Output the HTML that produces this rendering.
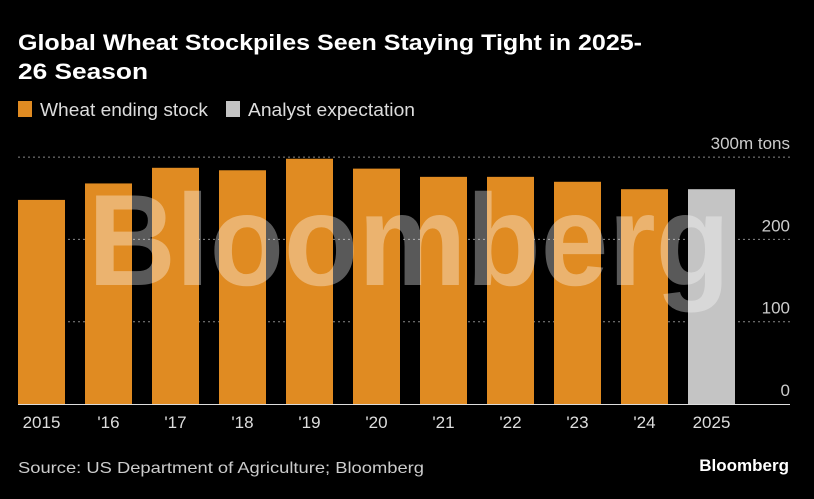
<!DOCTYPE html>
<html><head><meta charset="utf-8"><style>
body{margin:0;background:#000;width:814px;height:494px;overflow:hidden;font-family:"Liberation Sans",sans-serif;color:#fff}
</style></head><body>
<svg width="814" height="494" id="c">
<text x="18" y="50" font-size="22" font-weight="bold" fill="#fff" textLength="624" lengthAdjust="spacingAndGlyphs">Global Wheat Stockpiles Seen Staying Tight in 2025-</text>
<text x="18" y="79" font-size="22" font-weight="bold" fill="#fff" textLength="130" lengthAdjust="spacingAndGlyphs">26 Season</text>
<rect x="18" y="101" width="14" height="16" fill="#e08b22"/>
<text x="40" y="116" font-size="18" fill="#ddd" textLength="168" lengthAdjust="spacingAndGlyphs">Wheat ending stock</text>
<rect x="226" y="101" width="14" height="16" fill="#c4c4c4"/>
<text x="248" y="116" font-size="18" fill="#ddd" textLength="167" lengthAdjust="spacingAndGlyphs">Analyst expectation</text>
<g id="grid"></g><g id="bars"></g>
<line x1="18" x2="790" y1="404.5" y2="404.5" stroke="#ddd" stroke-width="1"/>
<g id="xl"></g>
<text x="88" y="285" font-size="130" font-weight="bold" fill="#fff" fill-opacity="0.35" textLength="642" lengthAdjust="spacingAndGlyphs">Bloomberg</text>
<text x="18" y="473" font-size="16" fill="#ccc" textLength="406" lengthAdjust="spacingAndGlyphs">Source: US Department of Agriculture; Bloomberg</text>
<text x="789" y="471" font-size="17" font-weight="bold" fill="#fff" text-anchor="end">Bloomberg</text>
</svg>
<script>
const categories=["2015","'16","'17","'18","'19","'20","'21","'22","'23","'24","2025"];
const values=[248,268,287,284,298,286,276,276,270,261,261];
const isExpectation=[false,false,false,false,false,false,false,false,false,false,true];
const ticks=[0,100,200,300];
const tickLabels=["0","100","200","300m tons"];
const NS="http://www.w3.org/2000/svg";
const y=v=>404-v*0.823;
const x=i=>18+i*67;
const bw=47;
function mk(t,a,p){const e=document.createElementNS(NS,t);for(const k in a)e.setAttribute(k,a[k]);p.appendChild(e);return e;}
const g=document.getElementById('grid');
ticks.forEach((t,i)=>{
 if(t>0){const l=mk('line',{x1:18,x2:790,y1:y(t),y2:y(t),stroke:'#888','stroke-dasharray':'2,3'},g);
 
 }
 const tx=mk('text',{x:790,y:y(t)-8,'font-size':17,fill:'#ccc','text-anchor':'end'},g);
 tx.textContent=tickLabels[i];
 
 
});
const b=document.getElementById('bars'),xl=document.getElementById('xl');
values.forEach((v,i)=>{
 const r=mk('rect',{x:x(i),y:y(v),width:bw,height:404-y(v),fill:isExpectation[i]?'#c4c4c4':'#e08b22'},b);
 
 
 const t=mk('text',{x:x(i)+bw/2,y:428,'font-size':17,fill:'#ddd','text-anchor':'middle'},xl);
 t.textContent=categories[i];
 
 
});
</script>
</body></html>
